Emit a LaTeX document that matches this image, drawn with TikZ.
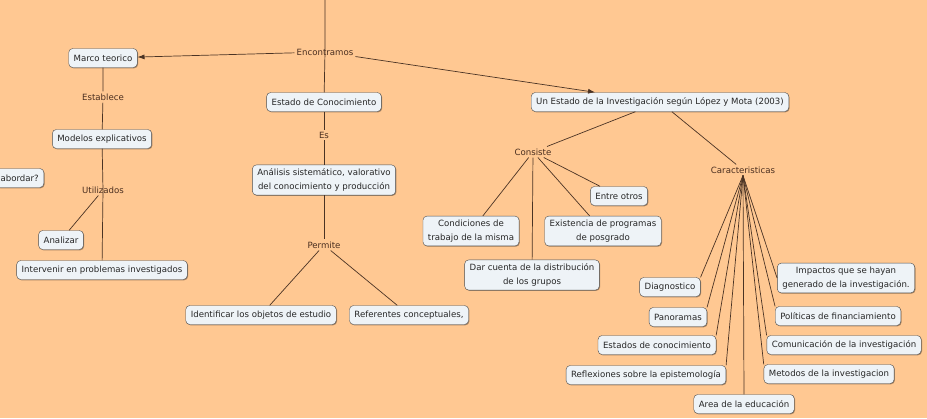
\documentclass[tikz,border=0pt]{standalone}
\usepackage{fontspec}
\setmainfont{DejaVu Sans}
\usetikzlibrary{shadows,arrows.meta}
\definecolor{peach}{HTML}{FFC892}
\definecolor{boxfill}{HTML}{EEF3F7}
\definecolor{boxline}{HTML}{4D4D4D}
\definecolor{linkline}{HTML}{4A3324}
\definecolor{linktext}{HTML}{4A2E1F}

\begin{document}
\begin{tikzpicture}[x=1pt,y=-1pt,
  concept/.style={draw=boxline,fill=boxfill,rounded corners=4pt,align=center,
    inner xsep=5pt,inner ysep=4pt,minimum height=19pt,text=black!85,
    font=\fontsize{8.6}{13.5}\selectfont,
    drop shadow={shadow xshift=.8pt,shadow yshift=-.8pt,fill=black,opacity=.35}},
  phrase/.style={inner sep=2pt,text=linktext,font=\fontsize{8.6}{13.5}\selectfont},
  link/.style={draw=linkline,line width=.7pt}]
  \useasboundingbox (0,0) rectangle (927,418);
  \fill[peach] (0,0) rectangle (927,418);

  \node[concept] (marco) at (103,58) {Marco teorico};
  \node[concept] (modelos) at (102,139) {Modelos explicativos};
  \node[concept,anchor=east] (abordar) at (44,178) {abordar?};
  \node[concept] (analizar) at (61,240) {Analizar};
  \node[concept] (intervenir) at (102,270) {Intervenir en problemas investigados};
  \node[concept] (estado) at (324,102) {Estado de Conocimiento};
  \node[concept] (analisis) at (324,180) {Análisis sistemático, valorativo\\del conocimiento y producción};
  \node[concept] (identificar) at (261,315) {Identificar los objetos de estudio};
  \node[concept] (referentes) at (409,315) {Referentes conceptuales,};
  \node[concept] (investigacion) at (660,102) {Un Estado de la Investigación según López y Mota (2003)};
  \node[concept] (entre) at (619,196) {Entre otros};
  \node[concept] (condiciones) at (471,231) {Condiciones de\\trabajo de la misma};
  \node[concept] (existencia) at (603,231) {Existencia de programas\\de posgrado};
  \node[concept] (darcuenta) at (532,275) {Dar cuenta de la distribución\\de los grupos};
  \node[concept] (diagnostico) at (670,287) {Diagnostico};
  \node[concept] (impactos) at (846,278) {Impactos que se hayan\\generado de la investigación.};
  \node[concept] (panoramas) at (678,317) {Panoramas};
  \node[concept] (politicas) at (838,316) {Políticas de financiamiento};
  \node[concept] (estados) at (657,345) {Estados de conocimiento};
  \node[concept] (comunicacion) at (844,345) {Comunicación de la investigación};
  \node[concept] (reflexiones) at (646,375) {Reflexiones sobre la epistemología};
  \node[concept] (metodos) at (829,374) {Metodos de la investigacion};
  \node[concept] (area) at (744,404) {Area de la educación};

  \node[phrase] (encontramos) at (325,52) {Encontramos};
  \node[phrase] (establece) at (103,97) {Establece};
  \node[phrase] (utilizados) at (103,190) {Utilizados};
  \node[phrase] (es) at (324,135) {Es};
  \node[phrase] (permite) at (324,245) {Permite};
  \node[phrase] (consiste) at (533,152) {Consiste};
  \node[phrase] (caracteristicas) at (743,170) {Caracteristicas};
  \coordinate (top) at (325,0);

  \draw[link] (top) -- (encontramos.center) -- (estado);
  \draw[link,-{Latex[length=7pt,width=5pt]}] (encontramos) -- (marco);
  \draw[link,-{Latex[length=7pt,width=5pt]}] (encontramos) -- (investigacion);
  \draw[link] (marco) -- (establece) -- (modelos);
  \draw[link] (modelos) -- (utilizados.center) -- (intervenir);
  \draw[link] (utilizados) -- (analizar);
  \draw[link] (estado) -- (es) -- (analisis);
  \draw[link] (analisis) -- (permite);
  \draw[link] (permite) -- (identificar);
  \draw[link] (permite) -- (referentes);
  \draw[link] (investigacion) -- (consiste);
  \draw[link] (investigacion) -- (caracteristicas);
  \foreach \n in {entre,condiciones,existencia,darcuenta}
    \draw[link] (consiste) -- (\n);
  \foreach \n/\a in {diagnostico/north east,panoramas/north east,estados/north east,
      reflexiones/north east,area/north,metodos/north west,comunicacion/north west,
      politicas/north west,impactos/west}
    \draw[link] (caracteristicas.south) -- (\n.\a);
\end{tikzpicture}
\end{document}
